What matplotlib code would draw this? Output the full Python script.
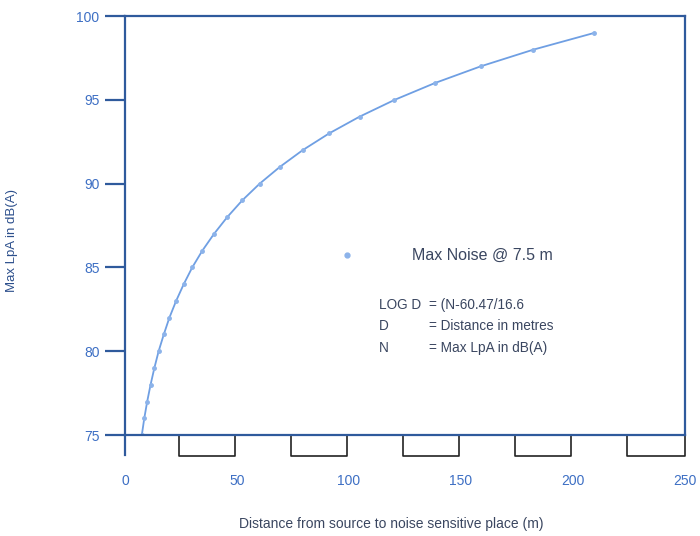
import matplotlib.pyplot as plt

plt.rcParams['font.family'] = ['Liberation Sans', 'DejaVu Sans']

# Max LpA (dB(A)) and the matching distance (m)
noise_db = [75, 76, 77, 78, 79, 80, 81, 82, 83, 84, 85, 86, 87,
            88, 89, 90, 91, 92, 93, 94, 95, 96, 97, 98, 99]
distance_m = [7.5, 8.6, 9.9, 11.4, 13.1, 15.0, 17.3, 19.8, 22.8, 26.2, 30.0, 34.5, 39.7,
              45.6, 52.3, 60.1, 69.1, 79.3, 91.1, 104.7, 120.3, 138.2, 158.7, 182.3, 209.5]

x_ticks = [0, 50, 100, 150, 200, 250]
y_ticks = [75, 80, 85, 90, 95, 100]
box_starts = [24, 74, 124, 174, 224]
box_ends = [49, 99, 149, 199, 250]

axis_blue = '#2f5a9c'
label_blue = '#3d6fc4'
line_blue = '#6f9fe3'
text_grey = '#3a4660'

fig = plt.figure(figsize=(7, 5.36), dpi=100)
ax = fig.add_axes([0.1786, 0.1884, 0.8, 0.7815])

ax.plot(distance_m, noise_db, color=line_blue, lw=1.3, marker='o', ms=2.5,
        markerfacecolor='#8cb3ea', markeredgecolor='#8cb3ea')

ax.set_xlim(0, 250)
ax.set_ylim(75, 100)

for side in ['top', 'right', 'bottom']:
    ax.spines[side].set_color(axis_blue)
    ax.spines[side].set_linewidth(1.6)
ax.spines['left'].set_visible(False)
# left axis line runs below the bottom of the plot
ax.plot([0, 0], [73.8, 100], color=axis_blue, lw=1.6, clip_on=False)

# scale boxes under the x axis
for x0, x1 in zip(box_starts, box_ends):
    ax.plot([x0, x0, x1, x1], [75, 73.75, 73.75, 75], color='#222222', lw=1.2,
            clip_on=False)

ax.set_yticks(y_ticks)
ax.set_xticks(x_ticks)
ax.tick_params(axis='y', direction='out', length=14.4, width=1.6, color=axis_blue,
               labelcolor=label_blue, labelsize=10, pad=4)
ax.tick_params(axis='x', length=0, labelcolor=label_blue, labelsize=10, pad=28)

ax.set_ylabel('Max LpA in dB(A)', color='#2c4f8c', fontsize=9.5)
ax.yaxis.set_label_coords(-0.191, 0.465)
ax.set_xlabel('Distance from source to noise sensitive place (m)', color=text_grey,
              fontsize=10)
ax.xaxis.set_label_coords(0.475, -0.195)

# legend and formula
ax.plot([99], [85.75], 'o', ms=3.5, color='#8cb3ea')
ax.text(128, 85.75, 'Max Noise @ 7.5 m', fontsize=11.5, color=text_grey, va='center')
ax.text(113.5, 82.75, 'LOG D', fontsize=9.8, color=text_grey, va='center')
ax.text(135.5, 82.75, '= (N-60.47/16.6', fontsize=9.8, color=text_grey, va='center')
ax.text(113.5, 81.5, 'D', fontsize=9.8, color=text_grey, va='center')
ax.text(135.5, 81.5, '= Distance in metres', fontsize=9.8, color=text_grey, va='center')
ax.text(113.5, 80.2, 'N', fontsize=9.8, color=text_grey, va='center')
ax.text(135.5, 80.2, '= Max LpA in dB(A)', fontsize=9.8, color=text_grey, va='center')

fig.savefig('out.png', dpi=100)
